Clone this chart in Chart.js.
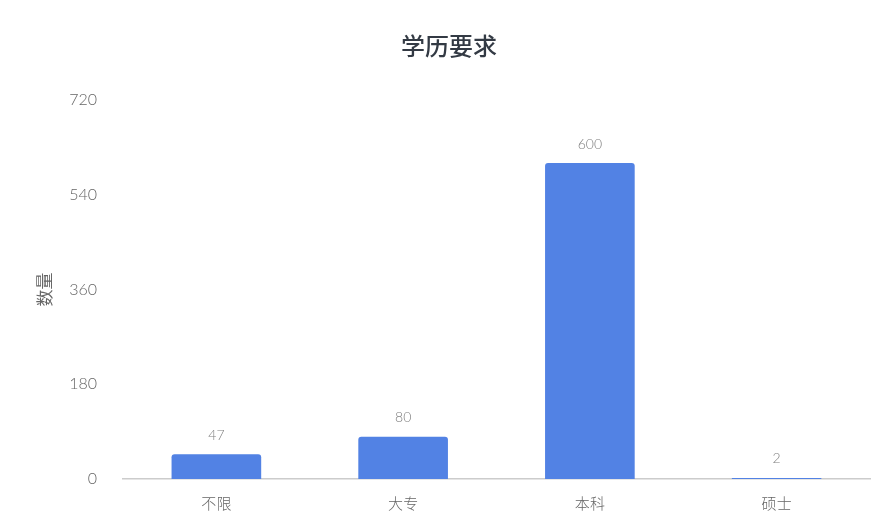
<!DOCTYPE html>
<html>
<head>
<meta charset="utf-8">
<script src="https://cdn.jsdelivr.net/npm/chart.js@4/dist/chart.umd.min.js"></script>
<style>
  html, body { margin: 0; padding: 0; background: #fff; }
  #wrap { width: 894px; height: 531px; }
</style>
</head>
<body>
<div id="wrap"><canvas id="myChart"></canvas></div>
<script>
// data
const categories = ["不限", "大专", "本科", "硕士"];
const counts = [47, 80, 600, 2];
const yTicks = [0, 180, 360, 540, 720];

const FONT = "Lato, 'Noto Sans CJK SC', sans-serif";

// draws the value above each bar
const valueLabels = {
  id: "valueLabels",
  afterDatasetsDraw(chart) {
    const ctx = chart.ctx;
    const meta = chart.getDatasetMeta(0);
    ctx.save();
    ctx.font = "300 14px " + FONT;
    ctx.fillStyle = "#808080";
    ctx.textAlign = "center";
    ctx.textBaseline = "middle";
    meta.data.forEach((bar, i) => {
      ctx.fillText(String(counts[i]), bar.x, bar.y - 19);
    });
    ctx.restore();
  }
};

const generateGraph = () => {
  let ctx = document.getElementById("myChart").getContext("2d");
  new Chart(ctx, {
    type: "bar",
    data: {
      labels: categories,
      datasets: [{
        label: "数量",
        data: counts,
        backgroundColor: "#5282e4",
        borderRadius: { topLeft: 3, topRight: 3 },
        borderSkipped: "bottom",
        categoryPercentage: 1,
        barPercentage: 0.48
      }]
    },
    options: {
      responsive: true,
      maintainAspectRatio: false,
      animation: false,
      layout: { padding: { left: 28, right: 24, top: 0, bottom: 2 } },
      plugins: {
        legend: { display: false },
        tooltip: { enabled: false },
        title: {
          display: true,
          text: "学历要求",
          color: "#333a44",
          font: { family: "'Noto Sans CJK SC', sans-serif", size: 24, weight: 500 },
          padding: { top: 31, bottom: 40 }
        }
      },
      scales: {
        x: {
          grid: { display: false, drawTicks: false },
          border: { display: true, color: "#cccccc", width: 1.5 },
          ticks: { color: "#666", padding: 16, font: { family: FONT, size: 15, weight: 300 } }
        },
        y: {
          min: 0,
          max: 720,
          afterBuildTicks: scale => { scale.ticks = yTicks.map(v => ({ value: v })); },
          afterFit: scale => { scale.width = 95; },
          grid: { display: false, drawTicks: false },
          border: { display: false },
          ticks: { color: "#666", padding: 26, font: { family: FONT, size: 16, weight: 300 } },
          title: {
            display: true,
            text: "数量",
            color: "#666",
            font: { family: FONT, size: 17 },
            padding: { top: 7, bottom: 0 }
          }
        }
      }
    },
    plugins: [valueLabels]
  });
};

generateGraph();
</script>
</body>
</html>
